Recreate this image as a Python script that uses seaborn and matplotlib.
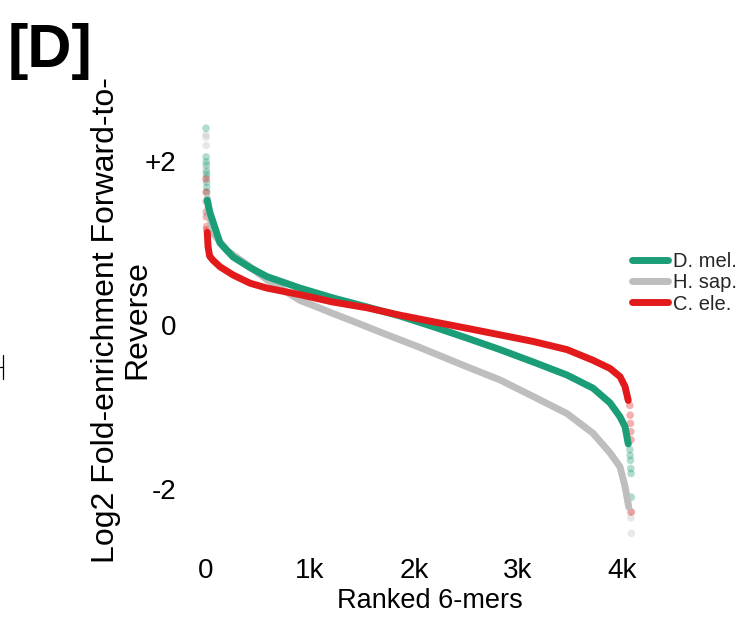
import numpy as np
import pandas as pd
import matplotlib
matplotlib.use("Agg")
import matplotlib.pyplot as plt
from matplotlib.lines import Line2D
import seaborn as sns

# Ranked 6-mer log2 forward-to-reverse enrichment, main body of each curve
dmel_rank = [12, 38, 135, 260, 423, 587, 904, 1221, 1548, 1865, 2183, 2510,
             2827, 3144, 3471, 3721, 3885, 3981, 4029, 4060]
dmel_val = [1.52, 1.37, 1.00, 0.83, 0.70, 0.59, 0.45, 0.33, 0.22, 0.11, -0.02,
            -0.16, -0.30, -0.45, -0.61, -0.77, -0.95, -1.12, -1.24, -1.45]

hsap_rank = [12, 25, 67, 200, 423, 587, 740, 904, 1067, 1221, 1385, 1702, 1865,
             2029, 2183, 2510, 2827, 3144, 3471, 3721, 3885, 3981, 4029, 4065]
hsap_val = [1.55, 1.40, 1.12, 0.91, 0.71, 0.55, 0.43, 0.30, 0.22, 0.14, 0.06,
            -0.10, -0.18, -0.26, -0.34, -0.51, -0.67, -0.87, -1.08, -1.32,
            -1.56, -1.73, -1.97, -2.22]

cele_rank = [12, 20, 35, 67, 135, 260, 423, 587, 904, 1221, 1548, 1865, 2183,
             2510, 2827, 3144, 3471, 3721, 3885, 3981, 4029, 4060]
cele_val = [1.13, 0.95, 0.84, 0.79, 0.71, 0.61, 0.51, 0.45, 0.37, 0.28, 0.21,
            0.12, 0.04, -0.04, -0.12, -0.20, -0.30, -0.43, -0.53, -0.63, -0.75,
            -0.92]

# Sparse extreme 6-mers at both ends of the ranking
dmel_tail_rank = [0, 1, 2, 3, 4, 5, 6, 7, 8, 4075, 4078, 4081, 4084, 4087, 4090]
dmel_tail_val = [2.40, 2.05, 1.99, 1.95, 1.87, 1.83, 1.74, 1.68, 1.62,
                 -1.52, -1.59, -1.65, -1.75, -1.81, -2.10]
hsap_tail_rank = [0, 1, 2, 3, 4, 4080, 4085, 4090]
hsap_tail_val = [2.32, 2.29, 2.19, 1.90, 1.80, -2.28, -2.35, -2.54]
cele_tail_rank = [0, 1, 2, 3, 4, 5, 6, 4075, 4078, 4081, 4084, 4087, 4090]
cele_tail_val = [1.78, 1.62, 1.51, 1.38, 1.32, 1.20, 1.16,
                 -0.98, -1.10, -1.20, -1.30, -1.40, -2.28]

species = ["D. mel.", "H. sap.", "C. ele."]
colors = {"D. mel.": "#1b9e77", "H. sap.": "#bebebe", "C. ele.": "#e31a1c"}
draw_order = ["H. sap.", "D. mel.", "C. ele."]

x_ticks = [0, 1000, 2000, 3000, 4000]
x_ticklabels = ["0", "1k", "2k", "3k", "4k"]
y_ticks = [-2, -1, 0, 1, 2]
y_ticklabels = ["-2", "", "0", "", "+2"]
y_title_lines = ["Log2 Fold-enrichment Forward-to-", "Reverse"]

body = pd.concat([
    pd.DataFrame({"rank": dmel_rank, "lfe": dmel_val, "species": "D. mel."}),
    pd.DataFrame({"rank": hsap_rank, "lfe": hsap_val, "species": "H. sap."}),
    pd.DataFrame({"rank": cele_rank, "lfe": cele_val, "species": "C. ele."}),
], ignore_index=True)
tails = pd.concat([
    pd.DataFrame({"rank": hsap_tail_rank, "lfe": hsap_tail_val, "species": "H. sap."}),
    pd.DataFrame({"rank": dmel_tail_rank, "lfe": dmel_tail_val, "species": "D. mel."}),
    pd.DataFrame({"rank": cele_tail_rank, "lfe": cele_tail_val, "species": "C. ele."}),
], ignore_index=True)

sns.set_style("white")
plt.rcParams["font.family"] = ["Liberation Sans", "DejaVu Sans"]

W, H = 755, 619
fig = plt.figure(figsize=(W / 100, H / 100), dpi=100)
left, right, top, bottom = 185, 645, 115, 546
ax = fig.add_axes([left / W, 1 - bottom / H, (right - left) / W, (bottom - top) / H])

sns.scatterplot(data=tails, x="rank", y="lfe", hue="species", hue_order=draw_order,
                palette=colors, s=30, alpha=0.35, edgecolor="none", legend=False, ax=ax)
sns.lineplot(data=body, x="rank", y="lfe", hue="species", hue_order=draw_order,
             palette=colors, estimator=None, sort=False, linewidth=5.0,
             legend=False, ax=ax)
for ln in ax.lines:
    ln.set_solid_capstyle("round")
    ln.set_solid_joinstyle("round")

ax.set_xlim(-202, 4221)
ax.set_ylim(-2.695, 2.561)
sns.despine(ax=ax, left=True, bottom=True)

ax.set_xticks(x_ticks)
ax.set_xticklabels(x_ticklabels)
ax.set_yticks(y_ticks)
ax.set_yticklabels(y_ticklabels)
ax.tick_params(axis="both", which="major", direction="out", length=2.5, width=0.8,
               color="black", labelsize=20, labelcolor="black")
ax.tick_params(axis="x", pad=6)
ax.tick_params(axis="y", pad=4)
ax.grid(False)

ax.set_xlabel("Ranked 6-mers", fontsize=19.5, color="black")
ax.xaxis.set_label_coords(0.533, -0.097)
ax.set_ylabel("")

# two-line vertical axis title, each line centred on the same height
for text, xpix in zip(y_title_lines, [106, 137]):
    fig.text(xpix / W, 1 - 320 / H, text, rotation=90, fontsize=23,
             ha="center", va="center", color="black")

handles = [Line2D([], [], color=colors[s], lw=5) for s in species]
fig.legend(handles, species, loc="center left",
           bbox_to_anchor=(632 / W, 1 - 283 / H), frameon=False,
           fontsize=14.5, handlelength=1.8, handletextpad=0.25,
           labelspacing=0.1, borderpad=0, borderaxespad=0)

fig.text(8 / W, 1 - 52 / H, "[D]", fontsize=44, fontweight="bold",
         ha="left", va="center", color="black")

# small cross mark at the left margin
fig.add_artist(Line2D([3.3 / W, 3.3 / W], [1 - 355 / H, 1 - 379 / H],
                      color="black", lw=0.9))
fig.add_artist(Line2D([0, 3.3 / W], [1 - 367 / H, 1 - 367 / H],
                      color="black", lw=0.9))

fig.savefig("out.png", dpi=100, facecolor="white")
